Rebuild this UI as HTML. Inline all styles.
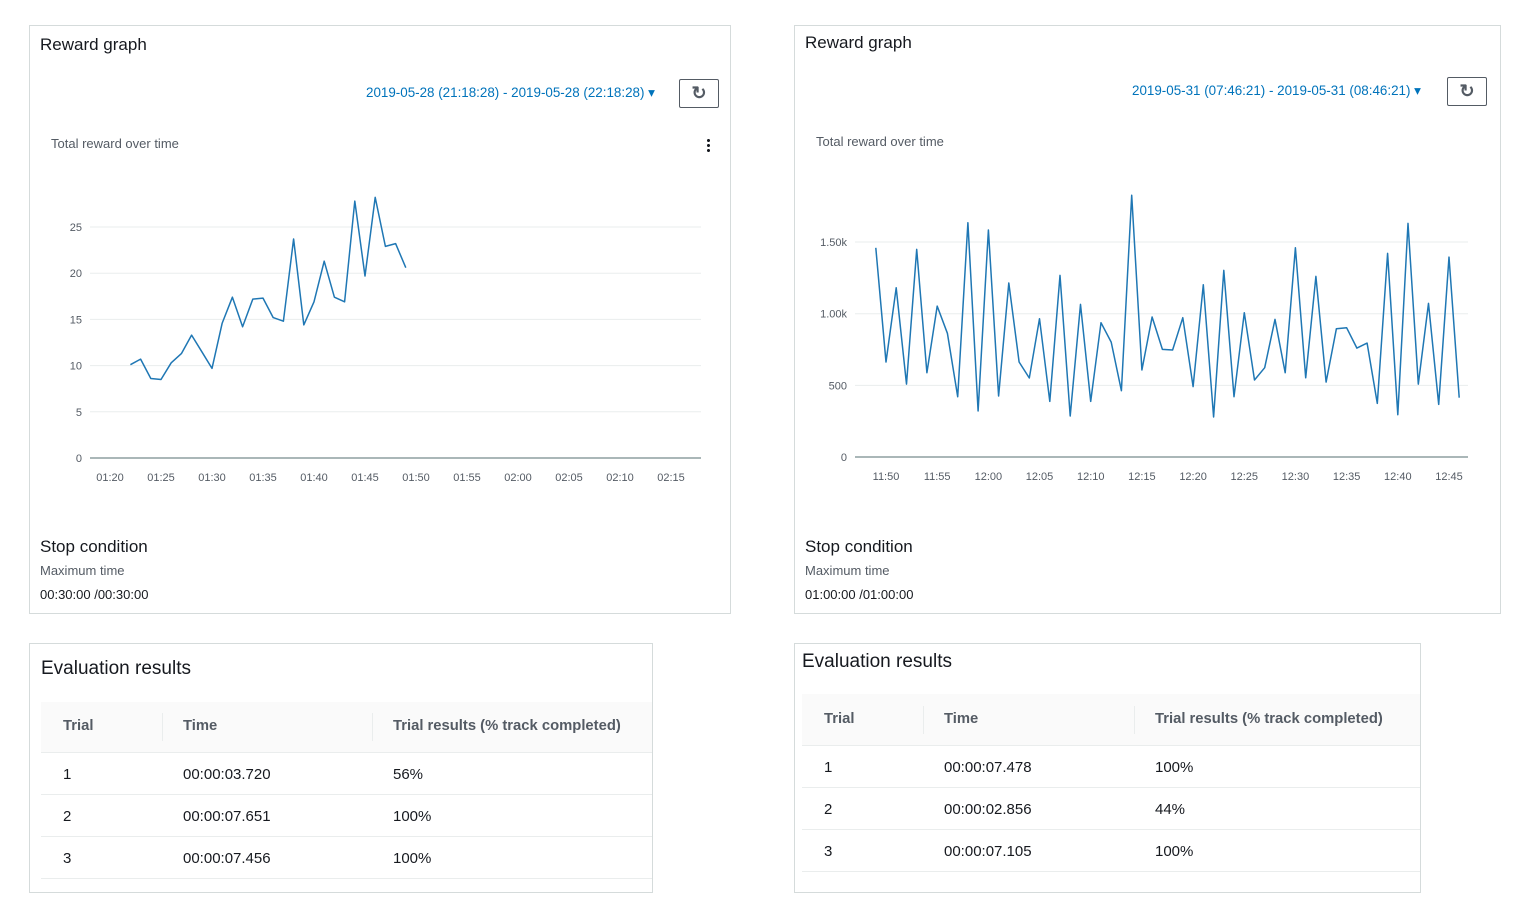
<!DOCTYPE html>
<html><head><meta charset="utf-8">
<style>
body{margin:0;width:1521px;height:914px;background:#fff;font-family:"Liberation Sans",sans-serif;color:#16191f;position:relative;overflow:hidden}
.abs{position:absolute}
.panel{position:absolute;border:1px solid #d5dbdb;box-sizing:border-box;background:#fff}
.title{position:absolute;font-size:17px;color:#16191f}
.range{position:absolute;font-size:13.4px;color:#0073bb;white-space:nowrap}
.refresh{position:absolute;width:40px;height:29px;border:1px solid #545b64;box-sizing:border-box;border-radius:2px;display:flex;align-items:center;justify-content:center;font-size:18px;font-weight:bold;color:#545b64}
.sub{position:absolute;font-size:13px;color:#545b64}
.h2{position:absolute;font-size:17px}
.small{position:absolute;font-size:13px;color:#545b64}
.val{position:absolute;font-size:13px;color:#16191f}
.evtitle{position:absolute;font-size:19px}
.th{position:absolute;font-size:14.8px;font-weight:bold;color:#545b64}
.td{position:absolute;font-size:15px;color:#16191f}
.hdr{position:absolute;background:#fafafa;border-bottom:1px solid #eaeded}
.sep{position:absolute;height:1px;background:#eaeded}
.vdiv{position:absolute;width:1px;background:#eaeded}
svg text{font-family:"Liberation Sans",sans-serif;font-size:11px;fill:#545b64}
</style></head><body>

<div class="panel" style="left:29px;top:25px;width:702px;height:589px"></div>
<div class="title" style="left:40px;top:35px">Reward graph</div>
<div class="range" style="left:366px;top:85px">2019-05-28 (21:18:28) - 2019-05-28 (22:18:28) &#9662;</div>
<div class="refresh" style="left:679px;top:79px">&#x21bb;</div>
<div class="sub" style="left:51px;top:136px">Total reward over time</div>
<div class="abs" style="left:707px;top:138px;width:3px;height:14px;background:radial-gradient(circle,#16191f 1.4px,transparent 1.6px) 0 0/3px 5px repeat-y"></div>
<svg id="leftChart" class="abs" style="left:0;top:0" width="760" height="500"></svg>
<div class="h2" style="left:40px;top:537px">Stop condition</div>
<div class="small" style="left:40px;top:563px">Maximum time</div>
<div class="val" style="left:40px;top:587px">00:30:00 /00:30:00</div>

<div class="panel" style="left:794px;top:25px;width:707px;height:589px"></div>
<div class="title" style="left:805px;top:33px">Reward graph</div>
<div class="range" style="left:1132px;top:83px">2019-05-31 (07:46:21) - 2019-05-31 (08:46:21) &#9662;</div>
<div class="refresh" style="left:1447px;top:77px">&#x21bb;</div>
<div class="sub" style="left:816px;top:134px">Total reward over time</div>
<svg id="rightChart" class="abs" style="left:760px;top:0" width="761" height="500"></svg>
<div class="h2" style="left:805px;top:537px">Stop condition</div>
<div class="small" style="left:805px;top:563px">Maximum time</div>
<div class="val" style="left:805px;top:587px">01:00:00 /01:00:00</div>

<div class="panel" style="left:29px;top:643px;width:624px;height:250px"></div>
<div class="evtitle" style="left:41px;top:658px">Evaluation results</div>
<div class="hdr" style="left:41px;top:702px;width:611px;height:50px"></div>
<div class="vdiv" style="left:162px;top:713px;height:28px"></div>
<div class="vdiv" style="left:372px;top:713px;height:28px"></div>
<div class="th" style="left:63px;top:718px">Trial</div>
<div class="th" style="left:183px;top:718px">Time</div>
<div class="th" style="left:393px;top:718px">Trial results (% track completed)</div>
<div class="td" style="left:63px;top:766px">1</div>
<div class="td" style="left:183px;top:766px">00:00:03.720</div>
<div class="td" style="left:393px;top:766px">56%</div>
<div class="sep" style="left:41px;top:794px;width:611px"></div>
<div class="td" style="left:63px;top:808px">2</div>
<div class="td" style="left:183px;top:808px">00:00:07.651</div>
<div class="td" style="left:393px;top:808px">100%</div>
<div class="sep" style="left:41px;top:836px;width:611px"></div>
<div class="td" style="left:63px;top:850px">3</div>
<div class="td" style="left:183px;top:850px">00:00:07.456</div>
<div class="td" style="left:393px;top:850px">100%</div>
<div class="sep" style="left:41px;top:878px;width:611px"></div>

<div class="panel" style="left:794px;top:643px;width:627px;height:250px"></div>
<div class="evtitle" style="left:802px;top:651px">Evaluation results</div>
<div class="hdr" style="left:802px;top:694px;width:618px;height:51px"></div>
<div class="vdiv" style="left:923px;top:706px;height:28px"></div>
<div class="vdiv" style="left:1134px;top:706px;height:28px"></div>
<div class="th" style="left:824px;top:711px">Trial</div>
<div class="th" style="left:944px;top:711px">Time</div>
<div class="th" style="left:1155px;top:711px">Trial results (% track completed)</div>
<div class="td" style="left:824px;top:759px">1</div>
<div class="td" style="left:944px;top:759px">00:00:07.478</div>
<div class="td" style="left:1155px;top:759px">100%</div>
<div class="sep" style="left:802px;top:787px;width:618px"></div>
<div class="td" style="left:824px;top:801px">2</div>
<div class="td" style="left:944px;top:801px">00:00:02.856</div>
<div class="td" style="left:1155px;top:801px">44%</div>
<div class="sep" style="left:802px;top:829px;width:618px"></div>
<div class="td" style="left:824px;top:843px">3</div>
<div class="td" style="left:944px;top:843px">00:00:07.105</div>
<div class="td" style="left:1155px;top:843px">100%</div>
<div class="sep" style="left:802px;top:871px;width:618px"></div>

<script>
// Left chart data (minutes since 01:00)
const leftStartMinute = 82;
const leftValues = [10.1,10.7,8.6,8.5,10.3,11.3,13.3,11.5,9.7,14.6,17.4,14.2,17.2,17.3,15.2,14.8,23.7,14.4,16.9,21.3,17.4,16.9,27.8,19.7,28.2,22.9,23.2,20.6];
const leftYTicks = [0,5,10,15,20,25];
const leftYTickLabels = ["0","5","10","15","20","25"];
const leftXTicks = [80,85,90,95,100,105,110,115,120,125,130,135];
const leftXTickLabels = ["01:20","01:25","01:30","01:35","01:40","01:45","01:50","01:55","02:00","02:05","02:10","02:15"];

// Right chart data (minutes since 11:00)
const rightStartMinute = 49;
const rightValues = [1460,663,1181,509,1449,588,1053,863,421,1635,321,1584,426,1214,663,551,965,388,1267,286,1065,388,937,802,463,1826,607,977,751,747,972,491,1202,279,1302,421,1007,537,623,960,588,1460,553,1260,523,895,902,760,795,374,1421,295,1630,509,1072,367,1395,414];
const rightYTicks = [0,500,1000,1500];
const rightYTickLabels = ["0","500","1.00k","1.50k"];
const rightXTicks = [50,55,60,65,70,75,80,85,90,95,100,105];
const rightXTickLabels = ["11:50","11:55","12:00","12:05","12:10","12:15","12:20","12:25","12:30","12:35","12:40","12:45"];

const NS = "http://www.w3.org/2000/svg";
function mk(svg, tag, attrs){const e=document.createElementNS(NS,tag);for(const k in attrs)e.setAttribute(k,attrs[k]);svg.appendChild(e);return e;}

function drawChart(cfg){
  const svg=document.getElementById(cfg.id);
  const xs=m=>cfg.x0+(m-cfg.m0)*cfg.pxPerMin;
  const ys=v=>cfg.yBase-(v-0)*cfg.pxPerUnit;
  cfg.yTicks.forEach((t,i)=>{
    if(t!==0){
      const g=mk(svg,'line',{x1:cfg.gx1,x2:cfg.gx2,y1:ys(t),y2:ys(t),stroke:'#eaeded','stroke-width':1});
      
      
    }
    const tx=mk(svg,'text',{x:cfg.gx1-8,y:ys(t)+4,'text-anchor':'end'});
    tx.textContent=cfg.yLabels[i];
    
    
  });
  const ax=mk(svg,'line',{x1:cfg.gx1,x2:cfg.gx2,y1:cfg.yBase,y2:cfg.yBase,stroke:'#aab7b8','stroke-width':2});
  
  
  cfg.xTicks.forEach((t,i)=>{
    const tx=mk(svg,'text',{x:xs(t),y:cfg.yBase+23,'text-anchor':'middle'});
    tx.textContent=cfg.xLabels[i];
    
    
  });
  const pts=cfg.values.map((v,i)=>xs(cfg.start+i).toFixed(1)+','+ys(v).toFixed(1)).join(' ');
  const pl=mk(svg,'polyline',{points:pts,fill:'none',stroke:'#1f77b4','stroke-width':1.5,'stroke-linejoin':'round'});
  
  
}

drawChart({id:'leftChart',x0:110,m0:80,pxPerMin:10.2,yBase:458,pxPerUnit:9.24,gx1:90,gx2:701,
  yTicks:leftYTicks,yLabels:leftYTickLabels,xTicks:leftXTicks,xLabels:leftXTickLabels,values:leftValues,start:leftStartMinute});
drawChart({id:'rightChart',x0:886-760,m0:50,pxPerMin:10.236,yBase:457,pxPerUnit:0.1433,gx1:855-760,gx2:1468-760,
  yTicks:rightYTicks,yLabels:rightYTickLabels,xTicks:rightXTicks,xLabels:rightXTickLabels,values:rightValues,start:rightStartMinute});
</script>
</body></html>
